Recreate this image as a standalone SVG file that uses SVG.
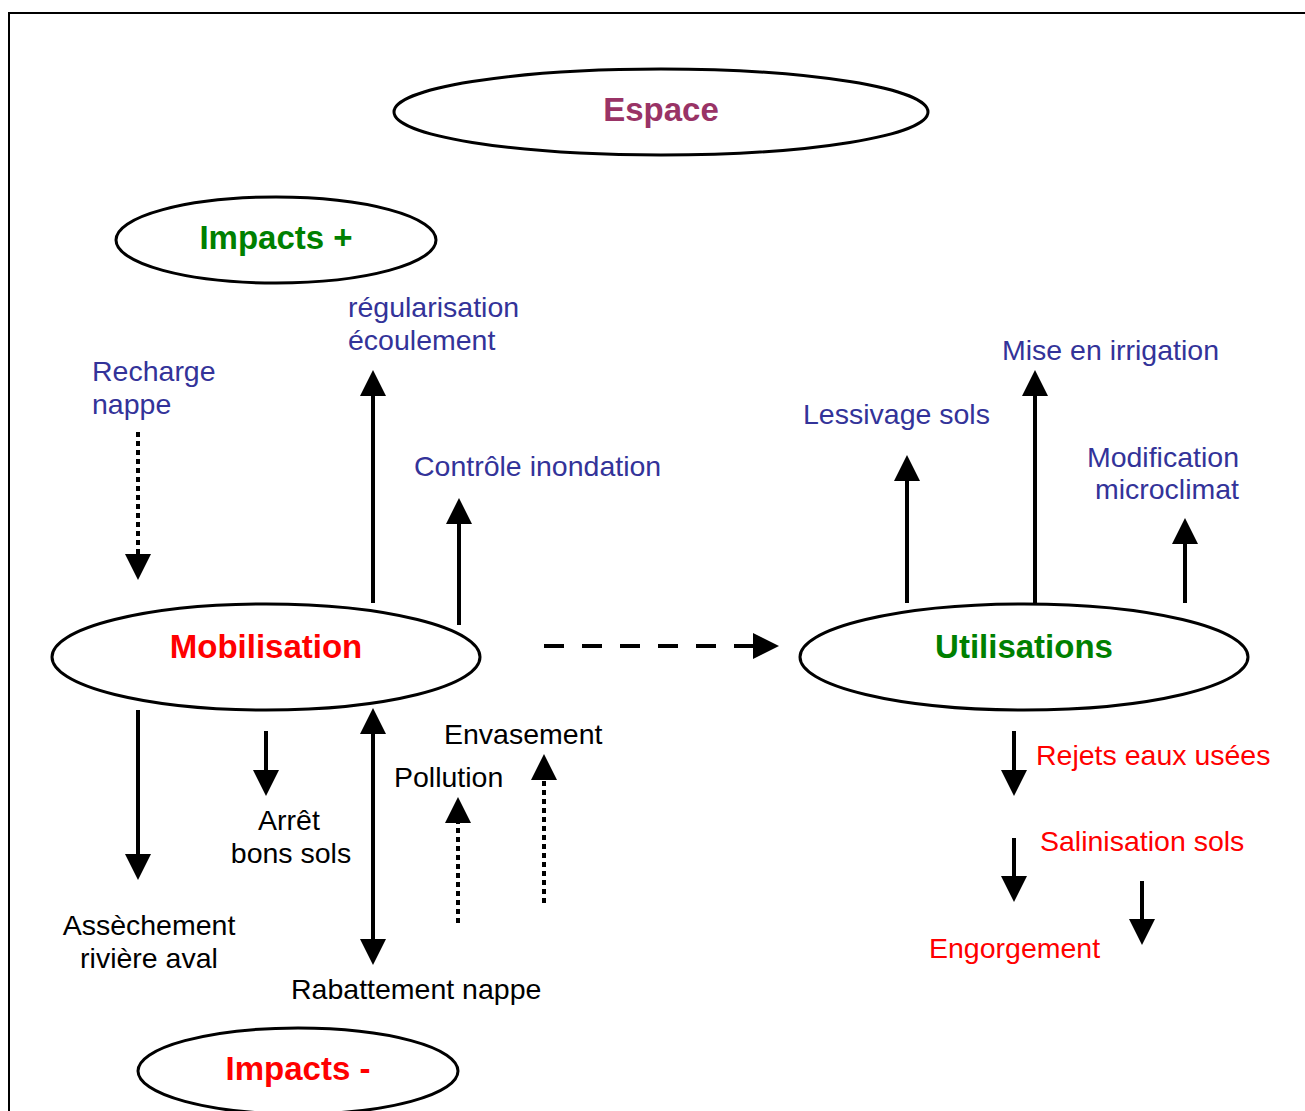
<svg xmlns="http://www.w3.org/2000/svg" width="1305" height="1111" viewBox="0 0 1305 1111">
<style>
.node ellipse{fill:#fff;stroke:#000;stroke-width:3}
.t{font-family:"Liberation Sans",Arial,sans-serif;font-size:28.5px}
.b{font-family:"Liberation Sans",Arial,sans-serif;font-size:33px;font-weight:bold;text-anchor:middle}
.blue{fill:#333399}.red{fill:#ff0000}.blk{fill:#000}.green{fill:#008000}.purple{fill:#993366}
.c line{stroke:#000;stroke-width:4;fill:none}
.dot{stroke-dasharray:5 4}
.dash{stroke-dasharray:20 18}
</style>
<defs>
<marker id="ah" markerUnits="userSpaceOnUse" markerWidth="26" markerHeight="26" refX="0" refY="13" orient="auto-start-reverse" viewBox="0 0 26 26">
<path d="M0,0 L26,13 L0,26 z" fill="#000"/>
</marker>
</defs>
<rect width="1305" height="1111" fill="#fff"/>
<path d="M9,1111 V13 H1305" fill="none" stroke="#000" stroke-width="2"/>

<g id="espace" class="node"><ellipse cx="661" cy="112" rx="267" ry="43"/><text class="b purple" x="661" y="121">Espace</text></g>
<g id="impacts-plus" class="node"><ellipse cx="276" cy="240" rx="160" ry="43"/><text class="b green" x="276" y="249">Impacts +</text></g>
<g id="mobilisation" class="node"><ellipse cx="266" cy="657" rx="214" ry="53"/><text class="b red" x="266" y="658">Mobilisation</text></g>
<g id="utilisations" class="node"><ellipse cx="1024" cy="657" rx="224" ry="53"/><text class="b green" x="1024" y="658">Utilisations</text></g>
<g id="impacts-moins" class="node"><ellipse cx="298" cy="1071" rx="160" ry="43"/><text class="b red" x="298" y="1080">Impacts -</text></g>

<g id="connectors" class="c">
<line class="dot" x1="138" y1="432" x2="138" y2="554" marker-end="url(#ah)"/>
<line x1="373" y1="603" x2="373" y2="396" marker-end="url(#ah)"/>
<line x1="459" y1="625" x2="459" y2="524" marker-end="url(#ah)"/>
<line x1="907" y1="603" x2="907" y2="481" marker-end="url(#ah)"/>
<line x1="1035" y1="603" x2="1035" y2="396" marker-end="url(#ah)"/>
<line x1="1185" y1="603" x2="1185" y2="544" marker-end="url(#ah)"/>
<line class="dash" x1="544" y1="646" x2="753" y2="646" marker-end="url(#ah)"/>
<line x1="138" y1="710" x2="138" y2="854" marker-end="url(#ah)"/>
<line x1="266" y1="731" x2="266" y2="770" marker-end="url(#ah)"/>
<line x1="373" y1="734" x2="373" y2="939" marker-start="url(#ah)" marker-end="url(#ah)"/>
<line class="dot" x1="458" y1="923" x2="458" y2="823" marker-end="url(#ah)"/>
<line class="dot" x1="544" y1="903" x2="544" y2="780" marker-end="url(#ah)"/>
<line x1="1014" y1="731" x2="1014" y2="770" marker-end="url(#ah)"/>
<line x1="1014" y1="838" x2="1014" y2="876" marker-end="url(#ah)"/>
<line x1="1142" y1="881" x2="1142" y2="919" marker-end="url(#ah)"/>
</g>

<g id="labels">
<text class="t blue" x="92" y="381">Recharge</text>
<text class="t blue" x="92" y="414">nappe</text>
<text class="t blue" x="348" y="317">régularisation</text>
<text class="t blue" x="348" y="350">écoulement</text>
<text class="t blue" x="414" y="476">Contrôle inondation</text>
<text class="t blue" x="1002" y="360">Mise en irrigation</text>
<text class="t blue" x="803" y="424">Lessivage sols</text>
<text class="t blue" x="1239" y="467" text-anchor="end">Modification</text>
<text class="t blue" x="1239" y="499" text-anchor="end">microclimat</text>
<text class="t blk" x="444" y="744">Envasement</text>
<text class="t blk" x="394" y="787">Pollution</text>
<text class="t blk" x="289" y="830" text-anchor="middle">Arrêt</text>
<text class="t blk" x="291" y="863" text-anchor="middle">bons sols</text>
<text class="t blk" x="149" y="935" text-anchor="middle">Assèchement</text>
<text class="t blk" x="149" y="968" text-anchor="middle">rivière aval</text>
<text class="t blk" x="291" y="999">Rabattement nappe</text>
<text class="t red" x="1036" y="765">Rejets eaux usées</text>
<text class="t red" x="1040" y="851">Salinisation sols</text>
<text class="t red" x="929" y="958">Engorgement</text>
</g>
</svg>
